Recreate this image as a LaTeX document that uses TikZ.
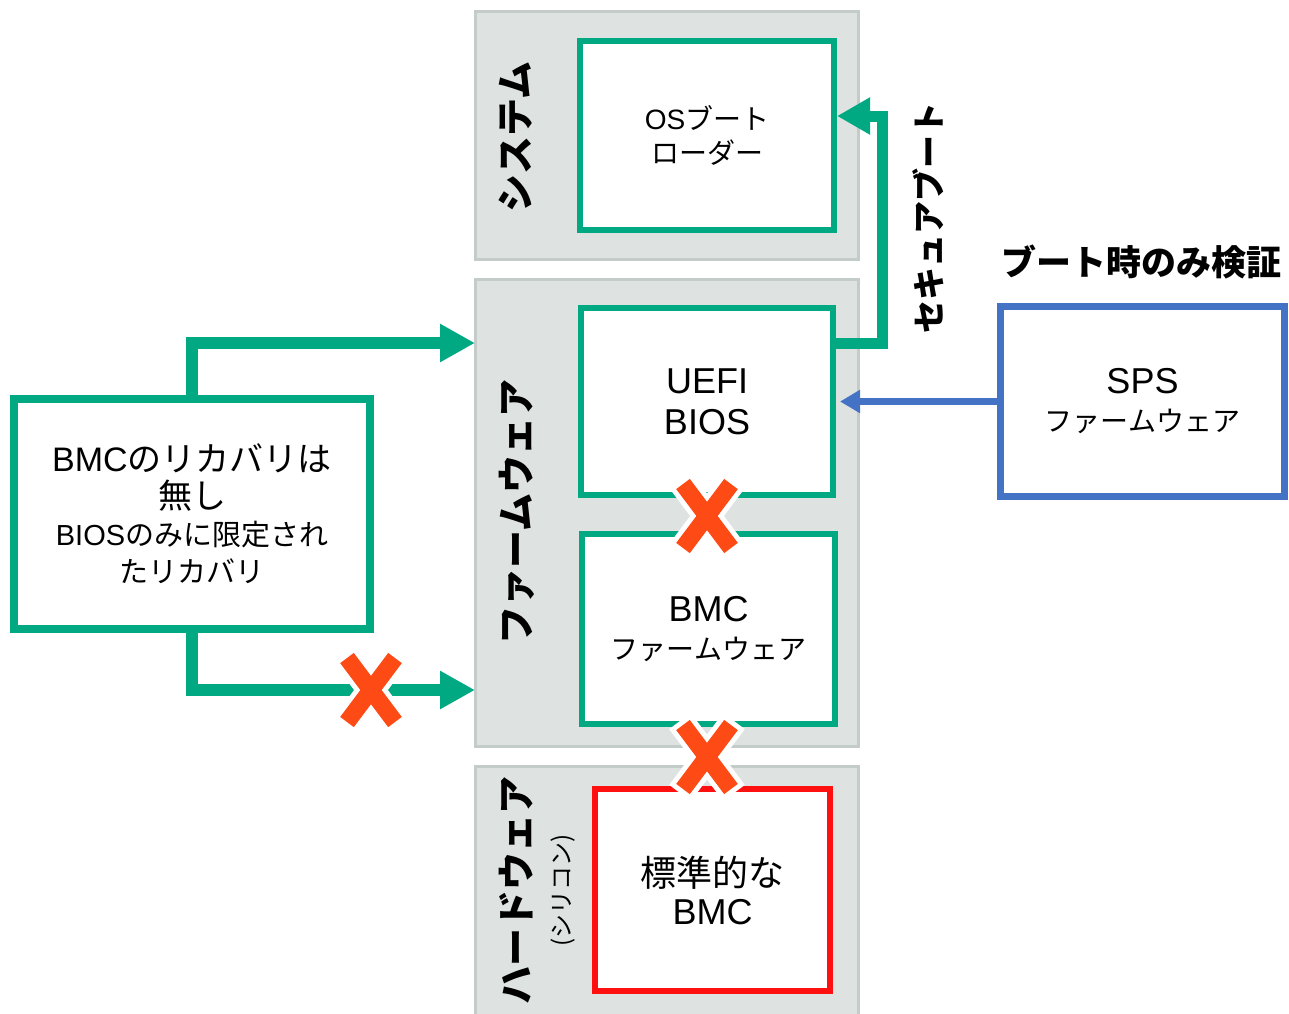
\documentclass[tikz,border=0pt]{standalone}
\usepackage{fontspec}
\setmainfont{Liberation Sans}
\newfontfamily\jp{Noto Sans CJK JP}
\newcommand{\jtext}[1]{{\jp #1}}
\usetikzlibrary{arrows.meta}
\definecolor{hpegreen}{HTML}{01A982}
\definecolor{panelgray}{HTML}{DEE3E2}
\definecolor{panelline}{HTML}{C4CCCA}
\definecolor{bmcred}{HTML}{FF1010}
\definecolor{spsblue}{HTML}{4472C4}
\definecolor{xorange}{HTML}{FE4A15}

\begin{document}
\begin{tikzpicture}[x=1pt, y=-1pt,
  panel/.style={draw=panelline, fill=panelgray, line width=3pt, inner sep=0pt, minimum width=383pt},
  gbox/.style={draw=hpegreen, fill=white, line width=6pt, inner sep=0pt, align=center},
  paneltitle/.style={rotate=90, font=\jp\bfseries\fontsize{38}{40}\selectfont, align=center},
  garrow/.style={draw=hpegreen, line width=12pt, -{Triangle[length=35pt,width=36pt]}},
  sbarrow/.style={draw=hpegreen, line width=11pt, -{Triangle[length=33pt,width=35pt]}},
  barrow/.style={draw=spsblue, line width=7pt, -{Triangle[length=20pt,width=22pt]}},
  nomark/.pic={
    \draw[white, line width=27pt] (-27,-36) -- (27,36) (-27,36) -- (27,-36);
    \draw[xorange, line width=17pt] (-24,-32) -- (24,32) (-24,32) -- (24,-32);
  }]
\useasboundingbox (0,0) rectangle (1289,1013);
\node[panel, minimum height=248pt] (sys) at (667,135.5) {};
\node[panel, minimum height=467pt] (fw) at (667,513) {};
\node[panel, minimum height=254pt] (hw) at (667,893) {};
\node[paneltitle] (systitle) at (516,137) {システム};
\node[paneltitle] (fwtitle) at (517,512) {ファームウェア};
\node[paneltitle] (hwtitle) at (537,890) {ハードウェア\\{\mdseries\fontsize{24}{27}\selectfont (シリコン)}};
\node[gbox, minimum width=254pt, minimum height=189pt, font=\fontsize{28}{34}\selectfont] (osldr) at (707,135.5) {OS\jtext{ブート}\\\jtext{ローダー}};
\node[gbox, minimum width=252pt, minimum height=187pt, font=\fontsize{36}{41}\selectfont] (uefi) at (707,401.5) {UEFI\\BIOS};
\node[gbox, minimum width=253pt, minimum height=190pt, font=\fontsize{36}{38}\selectfont] (bmcfw) at (708.5,629) {BMC\\{\fontsize{28}{34}\selectfont\jtext{ファームウェア}}};
\node[gbox, draw=bmcred, minimum width=235pt, minimum height=202pt, font=\fontsize{36}{38}\selectfont] (stdbmc) at (712.5,890) {\jtext{標準的な}\\BMC};
\node[gbox, line width=8pt, minimum width=356pt, minimum height=230pt, font=\fontsize{34}{37}\selectfont] (recov) at (192,514) {BMC\jtext{のリカバリは}\\\jtext{無し}\\{\fontsize{29}{33}\selectfont BIOS\jtext{のみに限定され}}\\{\fontsize{29}{33}\selectfont\jtext{たリカバリ}}};
\node[draw=spsblue, line width=7pt, fill=white, inner sep=0pt, align=center, minimum width=284pt, minimum height=190pt, font=\fontsize{36}{38}\selectfont] (sps) at (1142.5,401.5) {SPS\\{\fontsize{28}{34}\selectfont\jtext{ファームウェア}}};
\node[rotate=90, font=\jp\bfseries\fontsize{33}{36}\selectfont] (sbtitle) at (928,218) {セキュアブート};
\node[font=\jp\bfseries\fontsize{35}{37}\selectfont] (vtitle) at (1141,262) {ブート時のみ検証};
\coordinate (upin) at (475,343);
\coordinate (lowin) at (475,690);
\coordinate (sbtop) at (882,116);
\coordinate (sbend) at (837,116);
\draw[garrow] (recov.north) |- (upin);
\draw[garrow] (recov.south) |- (lowin);
\draw[sbarrow] ([yshift=58.5pt]uefi.east) -| (sbtop) -- (sbend);
\draw[barrow] (sps.west) -- ([xshift=4pt]uefi.east);
\pic at (707,516) {nomark};
\pic at (707,757) {nomark};
\pic at (371,690) {nomark};
\end{tikzpicture}
\end{document}
